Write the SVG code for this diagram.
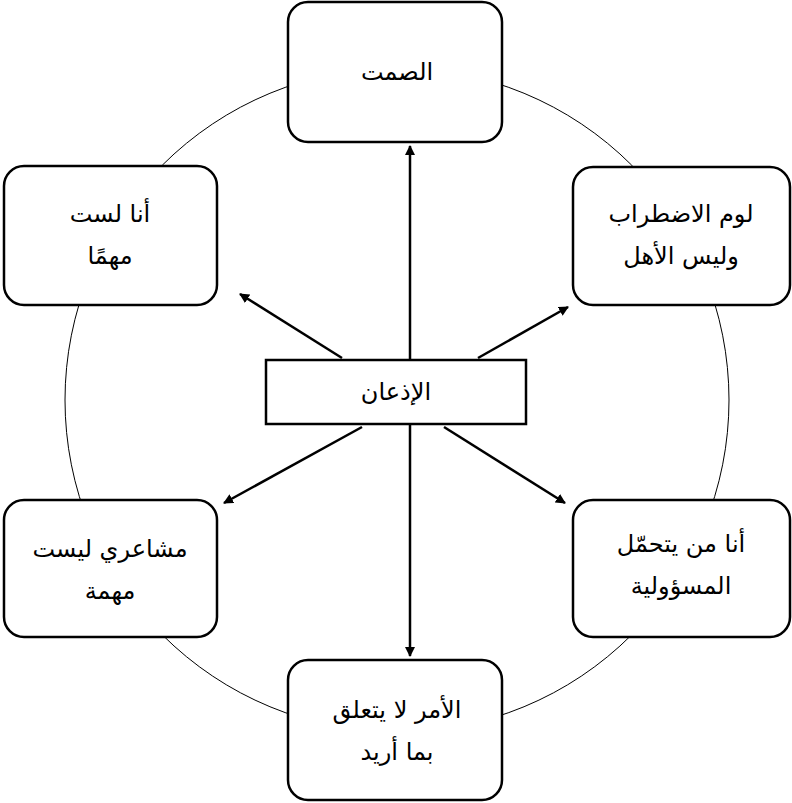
<svg xmlns="http://www.w3.org/2000/svg" width="792" height="803" viewBox="0 0 792 803">
<style>
.n{fill:#fff;stroke:#000;stroke-width:2.5}
.t{font-family:"DejaVu Sans",sans-serif;font-size:24px;text-anchor:middle;direction:rtl}
.c{stroke:#000;stroke-width:2.5;fill:none}
</style>
<defs><marker id="a" markerWidth="10" markerHeight="10" refX="9" refY="5" orient="auto" markerUnits="userSpaceOnUse" viewBox="0 0 10 10"><path d="M0,0L10,5L0,10z"/></marker></defs>
<rect width="792" height="803" fill="#fff"/>
<circle cx="397" cy="400" r="332" fill="none" stroke="#000" stroke-width="1"/>
<g id="connectors">
<line class="c" x1="410" y1="360" x2="410" y2="146" marker-end="url(#a)"/>
<line class="c" x1="410" y1="424" x2="410" y2="656" marker-end="url(#a)"/>
<line class="c" x1="342" y1="358" x2="240" y2="294" marker-end="url(#a)"/>
<line class="c" x1="478" y1="358" x2="568" y2="307" marker-end="url(#a)"/>
<line class="c" x1="362" y1="427" x2="224" y2="503" marker-end="url(#a)"/>
<line class="c" x1="444" y1="427" x2="565" y2="503" marker-end="url(#a)"/>
</g>
<g id="center"><rect class="n" x="266" y="360" width="260" height="64"/><text class="t" x="396" y="400">الإذعان</text></g>
<g id="top"><rect class="n" x="288" y="2" width="214" height="140" rx="20"/><text class="t" x="397" y="80">الصمت</text></g>
<g id="tr"><rect class="n" x="573" y="167" width="217" height="138" rx="20"/><text class="t" x="681" y="222">لوم الاضطراب</text><text class="t" x="681" y="264">وليس الأهل</text></g>
<g id="tl"><rect class="n" x="4" y="166" width="213" height="139" rx="20"/><text class="t" x="110" y="222">أنا لست</text><text class="t" x="110" y="264">مهمًا</text></g>
<g id="bl"><rect class="n" x="4" y="500" width="213" height="137" rx="20"/><text class="t" x="110" y="557">مشاعري ليست</text><text class="t" x="110" y="599">مهمة</text></g>
<g id="br"><rect class="n" x="573" y="500" width="217" height="137" rx="20"/><text class="t" x="681" y="552">أنا من يتحمّل</text><text class="t" x="681" y="594">المسؤولية</text></g>
<g id="bottom"><rect class="n" x="288" y="660" width="214" height="140" rx="20"/><text class="t" x="397" y="718">الأمر لا يتعلق</text><text class="t" x="397" y="760">بما أريد</text></g>
</svg>
